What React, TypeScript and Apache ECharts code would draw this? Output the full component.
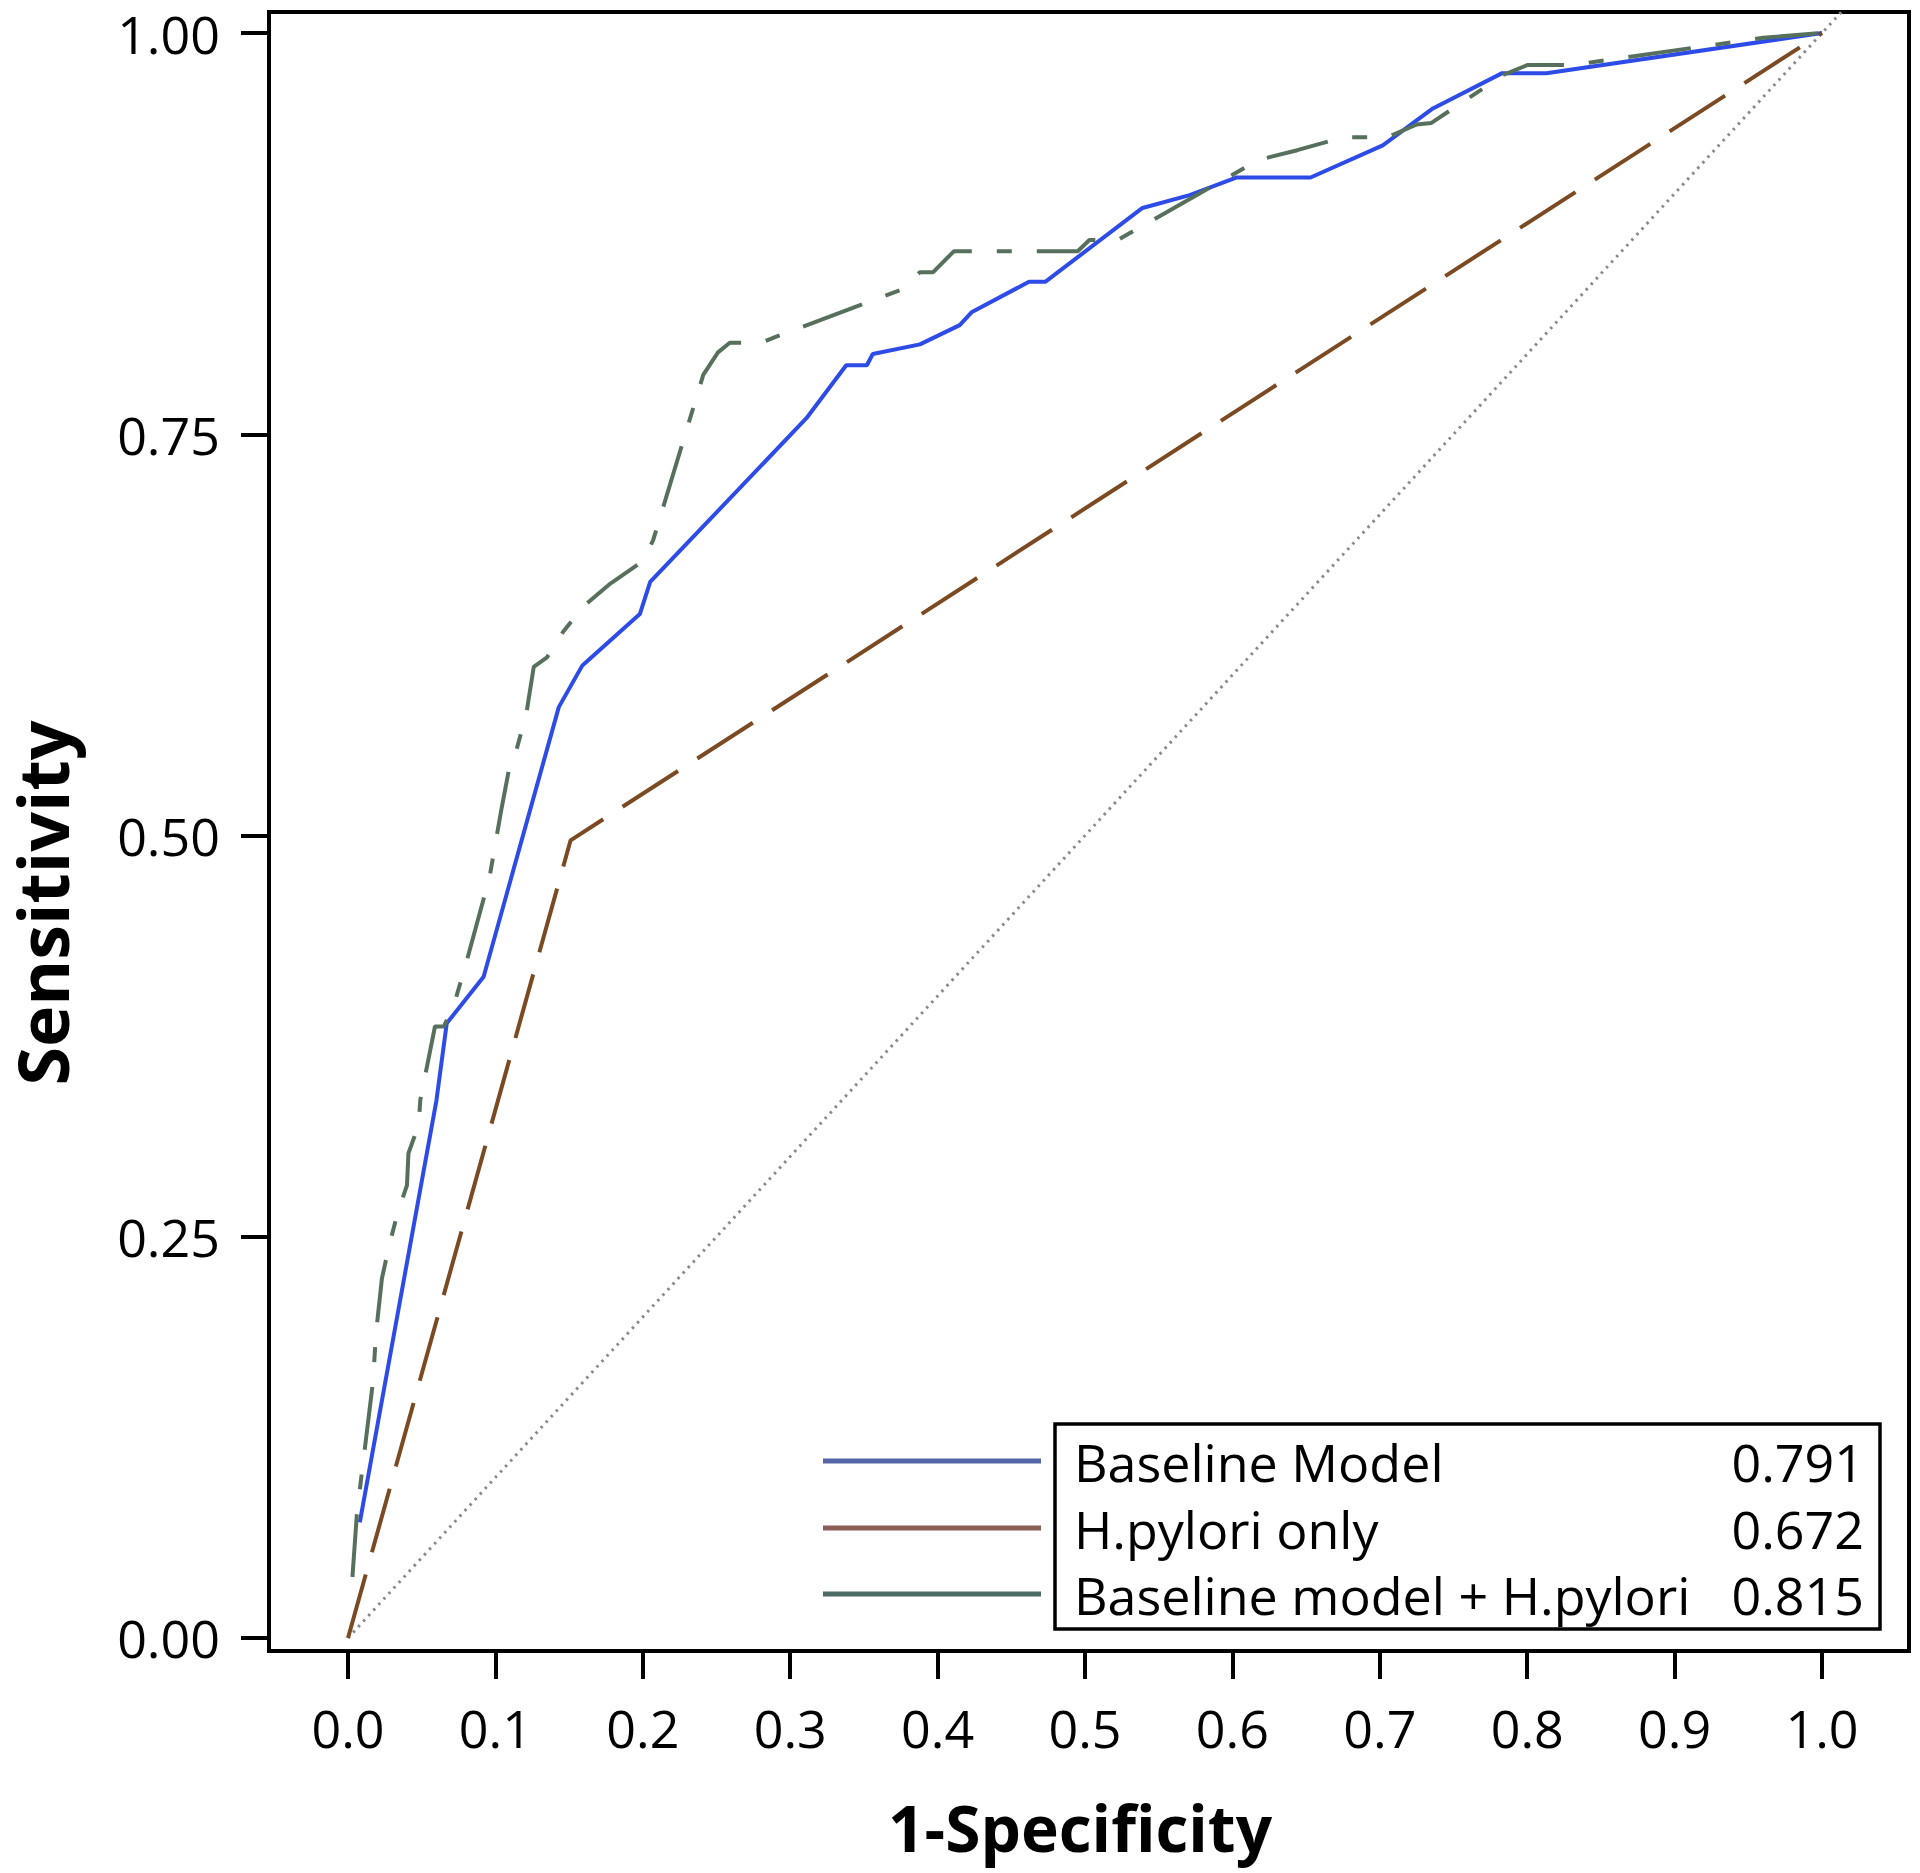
import React, { useEffect, useRef } from "react";
import * as echarts from "echarts";

// ---- Tick labels ----
const xTicks = [0, 0.1, 0.2, 0.3, 0.4, 0.5, 0.6, 0.7, 0.8, 0.9, 1.0];
const yTicks = [0, 0.25, 0.5, 0.75, 1.0];

// ---- Legend entries ----
const seriesNames = ["Baseline Model", "H.pylori only", "Baseline model + H.pylori"];
const aucValues = ["0.791", "0.672", "0.815"];

// ---- Reference diagonal (chance line) ----
const diagonalX = [0, 1.013];
const diagonalY = [0, 1.013];

// ---- Baseline Model ROC ----
const baselineFpr = [0.008, 0.060, 0.067, 0.092, 0.143, 0.159, 0.187, 0.198, 0.205, 0.311, 0.338, 0.352, 0.356, 0.388, 0.415, 0.423, 0.462, 0.473, 0.539, 0.571, 0.603, 0.653, 0.702, 0.736, 0.783, 0.813, 1.0];
const baselineTpr = [0.072, 0.335, 0.383, 0.412, 0.580, 0.606, 0.629, 0.638, 0.658, 0.760, 0.793, 0.793, 0.800, 0.806, 0.818, 0.826, 0.845, 0.845, 0.891, 0.899, 0.910, 0.910, 0.930, 0.953, 0.975, 0.975, 1.0];

// ---- H.pylori only ROC ----
const hpFpr = [0, 0.151, 1.0];
const hpTpr = [0, 0.497, 1.0];

// ---- Baseline model + H.pylori ROC ----
const combFpr = [0.003, 0.006, 0.009, 0.017, 0.019, 0.023, 0.028, 0.034, 0.040, 0.041, 0.048, 0.049, 0.059, 0.065, 0.072, 0.080, 0.096, 0.104, 0.110, 0.113, 0.121, 0.126, 0.135, 0.146, 0.160, 0.178, 0.200, 0.207, 0.241, 0.251, 0.259, 0.280, 0.291, 0.375, 0.388, 0.397, 0.411, 0.454, 0.495, 0.503, 0.522, 0.618, 0.644, 0.675, 0.705, 0.725, 0.735, 0.784, 0.800, 0.830, 0.960, 1.0];
const combTpr = [0.038, 0.077, 0.100, 0.160, 0.190, 0.224, 0.245, 0.266, 0.282, 0.302, 0.320, 0.335, 0.381, 0.381, 0.395, 0.420, 0.474, 0.516, 0.545, 0.549, 0.576, 0.605, 0.611, 0.627, 0.643, 0.657, 0.671, 0.684, 0.787, 0.801, 0.807, 0.807, 0.811, 0.840, 0.851, 0.851, 0.864, 0.864, 0.864, 0.871, 0.871, 0.921, 0.927, 0.935, 0.935, 0.943, 0.944, 0.974, 0.980, 0.980, 0.997, 1.0];

const zip = (xs: number[], ys: number[]) => xs.map((x, i) => [x, ys[i]]);

const FONT = '"Open Sans", "DejaVu Sans", sans-serif';
const curveColors = ["#2d4be6", "#7b4a22", "#56705c"];
const legendLineColors = ["#5566a8", "#8a5d55", "#4d6b66"];

export default function App() {
  const ref = useRef<HTMLDivElement | null>(null);

  useEffect(() => {
    if (!ref.current) return;
    const chart = echarts.init(ref.current, undefined, { renderer: "svg" });

    const legendRowY = [1461, 1528, 1594];
    const legendGraphics: any[] = [
      {
        type: "rect",
        shape: { x: 1055, y: 1424, width: 825, height: 205 },
        style: { fill: "#fff", stroke: "#000", lineWidth: 3.5 },
        z: 100,
      },
    ];
    seriesNames.forEach((name, i) => {
      legendGraphics.push({
        type: "line",
        shape: { x1: 823, y1: legendRowY[i], x2: 1041, y2: legendRowY[i] },
        style: { stroke: legendLineColors[i], lineWidth: 5 },
        z: 100,
      });
      legendGraphics.push({
        type: "text",
        x: 1074,
        y: legendRowY[i],
        style: {
          text: name,
          font: `52px ${FONT}`,
          fill: "#000",
          align: "left",
          verticalAlign: "middle",
          textAlign: "left",
          textVerticalAlign: "middle",
        },
        z: 101,
      });
      legendGraphics.push({
        type: "text",
        x: 1864,
        y: legendRowY[i],
        style: {
          text: aucValues[i],
          font: `52px ${FONT}`,
          fill: "#000",
          align: "right",
          verticalAlign: "middle",
          textAlign: "right",
          textVerticalAlign: "middle",
        },
        z: 101,
      });
    });

    const titleGraphics: any[] = [
      {
        type: "text",
        x: 1080,
        y: 1827,
        style: {
          text: "1-Specificity",
          font: `bold 64px ${FONT}`,
          lineHeight: 64,
          fill: "#000",
          align: "center",
          verticalAlign: "middle",
          textAlign: "center",
          textVerticalAlign: "middle",
        },
      },
      {
        type: "text",
        x: 42,
        y: 903,
        rotation: Math.PI / 2,
        style: {
          text: "Sensitivity",
          font: `bold 70px ${FONT}`,
          lineHeight: 70,
          fill: "#000",
          align: "center",
          verticalAlign: "middle",
          textAlign: "center",
          textVerticalAlign: "middle",
        },
      },
    ];

    const axisCommon = {
      type: "value" as const,
      splitLine: { show: false },
      axisLine: { show: true, onZero: false, lineStyle: { color: "#000", width: 4 } },
      axisTick: { show: true, length: 28, inside: false, lineStyle: { color: "#000", width: 4 } },
    };

    chart.setOption({
      animation: false,
      backgroundColor: "#fff",
      grid: {
        left: 269,
        right: 11,
        top: 12,
        bottom: 222,
        show: true,
        borderColor: "#000",
        borderWidth: 4,
        backgroundColor: "transparent",
      },
      xAxis: {
        ...axisCommon,
        min: -0.0536,
        max: 1.059,
        axisTick: { ...axisCommon.axisTick, customValues: xTicks },
        axisLabel: {
          customValues: xTicks,
          margin: 50,
          color: "#000",
          fontSize: 52,
          lineHeight: 52,
          fontFamily: FONT,
          formatter: (v: number) => v.toFixed(1),
        },
      },
      yAxis: {
        ...axisCommon,
        min: -0.0081,
        max: 1.0131,
        axisTick: { ...axisCommon.axisTick, customValues: yTicks },
        axisLabel: {
          customValues: yTicks,
          margin: 49,
          color: "#000",
          fontSize: 52,
          lineHeight: 44,
          fontFamily: FONT,
          formatter: (v: number) => v.toFixed(2),
        },
      },
      series: [
        {
          name: "Chance",
          type: "line",
          data: zip(diagonalX, diagonalY),
          symbol: "none",
          silent: true,
          lineStyle: { color: "#8a8a8a", width: 3, type: [2.5, 5] },
          z: 1,
        },
        {
          name: seriesNames[0],
          type: "line",
          data: zip(baselineFpr, baselineTpr),
          symbol: "none",
          lineStyle: { color: curveColors[0], width: 4 },
          z: 2,
        },
        {
          name: seriesNames[1],
          type: "line",
          data: zip(hpFpr, hpTpr),
          symbol: "none",
          lineStyle: { color: curveColors[1], width: 4, type: [66, 23] },
          z: 3,
        },
        {
          name: seriesNames[2],
          type: "line",
          data: zip(combFpr, combTpr),
          symbol: "none",
          lineStyle: { color: curveColors[2], width: 4, type: [63, 25, 15, 25] },
          z: 4,
        },
      ],
      graphic: [...titleGraphics, ...legendGraphics],
    });

    return () => {
      chart.dispose();
    };
  }, []);

  return (
    <div
      ref={ref}
      style={{ position: "absolute", left: 0, top: 0, width: 1920, height: 1873 }}
    />
  );
}
